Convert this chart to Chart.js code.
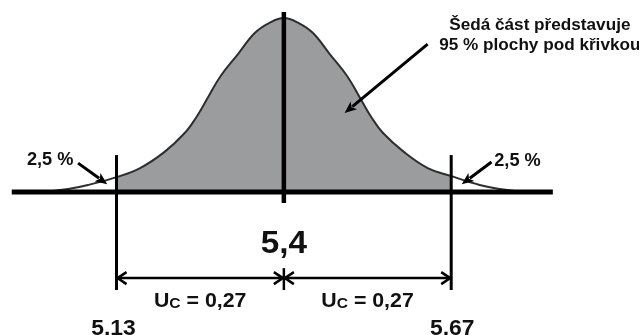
<!DOCTYPE html>
<html>
<head>
<meta charset="utf-8">
<script src="https://cdn.jsdelivr.net/npm/chart.js@4.4.1/dist/chart.umd.min.js"></script>
<style>
    body { margin: 0; background: #fff; }
    #wrap { width: 639px; height: 335px; position: relative; }
</style>
</head>
<body>
<div id="wrap"><canvas id="myChart"></canvas></div>
<script>
// krivka (x = hodnota, y = relativni vyska)
const curveX = [4.987, 5.019, 5.052, 5.084, 5.13, 5.168, 5.207, 5.240, 5.258, 5.277, 5.298, 5.326, 5.353, 5.376, 5.40,
    5.424, 5.447, 5.474, 5.502, 5.523, 5.542, 5.560, 5.594, 5.632, 5.67, 5.716, 5.748, 5.781, 5.813];
const curveY = [0, 0.009, 0.023, 0.046, 0.091, 0.143, 0.234, 0.343, 0.429, 0.543, 0.669, 0.794, 0.914, 0.971, 1.0,
    0.971, 0.914, 0.794, 0.669, 0.543, 0.429, 0.343, 0.234, 0.143, 0.097, 0.046, 0.023, 0.009, 0];

const mean = 5.4;
const limits = [5.13, 5.67];          // dolni / horni mez
const ucValues = [0.27, 0.27];        // kombinovana nejistota
const tickValues = [5.13, 5.4, 5.67];
const tickLabels = ['5,13', '5,4', '5,67'];
const tailPercents = [2.5, 2.5];
const noteLines = ['Šedá část představuje', '95 % plochy pod křivkou'];

const fmt = v => String(v).replace('.', ',');
const FONT = '"Liberation Sans", Arial, sans-serif';
const STRETCH = 1.04;

const points = curveX.map((v, i) => ({ x: v, y: curveY[i] }));
const shaded = points.filter(p => p.x >= limits[0] && p.x <= limits[1]);

// text s mirnym horizontalnim roztazenim (puvodni pismo je sirsi)
const drawText = (ctx, text, x, y, size, align = 'center') => {
    ctx.save();
    ctx.font = `bold ${size}px ${FONT}`;
    const w = ctx.measureText(text).width * STRETCH;
    const left = align === 'center' ? x - w / 2 : x;
    ctx.translate(left, y);
    ctx.scale(STRETCH, 1);
    ctx.textAlign = 'left';
    ctx.textBaseline = 'alphabetic';
    ctx.fillStyle = '#111';
    ctx.fillText(text, 0, 0);
    ctx.restore();
};

const overlay = {
    id: 'overlay',
    afterDatasetsDraw(chart) {
        const { ctx, scales: { x, y } } = chart;
        const px = v => x.getPixelForValue(v);
        const py = v => y.getPixelForValue(v);

        const line = (x1, y1, x2, y2, w) => {
            ctx.beginPath();
            ctx.moveTo(x1, y1);
            ctx.lineTo(x2, y2);
            ctx.lineWidth = w;
            ctx.strokeStyle = '#000';
            ctx.stroke();
        };
        const chevron = (tx, ty, dir) => {
            ctx.beginPath();
            ctx.moveTo(tx - dir * 9, ty - 6);
            ctx.lineTo(tx, ty);
            ctx.lineTo(tx - dir * 9, ty + 6);
            ctx.lineWidth = 2.5;
            ctx.strokeStyle = '#000';
            ctx.stroke();
        };
        const pointer = (x1, y1, x2, y2) => {
            const a = Math.atan2(y2 - y1, x2 - x1);
            const L = 12, H = 5;
            const bx = x2 - Math.cos(a) * L, by = y2 - Math.sin(a) * L;
            line(x1, y1, bx + Math.cos(a) * 2, by + Math.sin(a) * 2, 3);
            ctx.beginPath();
            ctx.moveTo(x2, y2);
            ctx.lineTo(bx - Math.sin(a) * H, by + Math.cos(a) * H);
            ctx.lineTo(bx + Math.cos(a) * 3, by + Math.sin(a) * 3);
            ctx.lineTo(bx + Math.sin(a) * H, by - Math.cos(a) * H);
            ctx.closePath();
            ctx.fillStyle = '#000';
            ctx.fill();
        };

        ctx.save();
        ctx.lineCap = 'butt';

        // vodorovna osa
        line(px(4.961), py(0.006), px(5.834), py(0.006), 5);
        // stredni hodnota
        line(px(mean), py(1.034), px(mean), py(-0.057), 4.5);
        // meze
        limits.forEach(v => line(px(v), py(0.217), px(v), py(-0.554), 3));

        // koty s nejistotou
        const dimY = py(-0.486);
        line(px(limits[0]), dimY, px(limits[1]), dimY, 2.5);
        line(px(mean), py(-0.429), px(mean), py(-0.554), 2.5);
        chevron(px(limits[0]) + 1, dimY, -1);
        chevron(px(mean) - 1, dimY, 1);
        chevron(px(mean) + 1, dimY, -1);
        chevron(px(limits[1]) - 1, dimY, 1);

        // popisky Uc
        const ucCenters = [(limits[0] + mean) / 2, (mean + limits[1]) / 2];
        ucCenters.forEach((c, i) => {
            const base = py(-0.651);
            const rest = ' = ' + ucValues[i].toFixed(2).replace('.', ',');
            ctx.font = `bold 20.5px ${FONT}`;
            const wU = ctx.measureText('U').width * STRETCH;
            const wR = ctx.measureText(rest).width * STRETCH;
            ctx.font = `bold 15px ${FONT}`;
            const wC = ctx.measureText('C').width * STRETCH;
            let left = px(c) - (wU + wC + wR) / 2;
            drawText(ctx, 'U', left, base, 20.5, 'left');
            drawText(ctx, 'C', left + wU, base + 1, 15, 'left');
            drawText(ctx, rest, left + wU + wC, base, 20.5, 'left');
        });

        // hodnoty na ose
        drawText(ctx, tickLabels[1], px(tickValues[1]), py(-0.343), 32);
        drawText(ctx, tickLabels[0], px(tickValues[0]) - 3, py(-0.81), 22);
        drawText(ctx, tickLabels[2], px(tickValues[2]) + 1, py(-0.81), 22);

        // 2,5 % na koncich
        drawText(ctx, fmt(tailPercents[0]) + ' %', px(5.023), py(0.16), 17.5);
        drawText(ctx, fmt(tailPercents[1]) + ' %', px(5.777), py(0.154), 17.5);
        pointer(px(5.068), py(0.171), px(5.115), py(0.051));
        pointer(px(5.735), py(0.177), px(5.687), py(0.051));

        // poznamka
        drawText(ctx, noteLines[0], px(5.813), py(0.931), 16.5);
        drawText(ctx, noteLines[1], px(5.813), py(0.817), 16.5);
        pointer(px(5.632), py(0.851), px(5.498), py(0.457));

        ctx.restore();
    }
};

const ctxEl = document.getElementById('myChart');

new Chart(ctxEl, {
    type: 'line',
    data: {
        datasets: [{
            // obrys krivky
            data: points,
            borderColor: '#2e2e2e',
            borderWidth: 2,
            pointRadius: 0,
            fill: false,
            tension: 0.4,
            order: 0
        }, {
            // seda plocha 95 %
            data: shaded,
            borderWidth: 0,
            borderColor: 'rgba(0,0,0,0)',
            backgroundColor: '#9b9c9e',
            pointRadius: 0,
            fill: 'origin',
            tension: 0.4,
            order: 1
        }]
    },
    options: {
        responsive: true,
        maintainAspectRatio: false,
        animation: false,
        layout: { padding: 0 },
        scales: {
            x: { type: 'linear', min: 4.942, max: 5.973, display: false },
            y: { min: -0.811, max: 1.103, display: false }
        },
        plugins: {
            legend: { display: false },
            tooltip: { enabled: false }
        }
    },
    plugins: [overlay]
});
</script>
</body>
</html>
